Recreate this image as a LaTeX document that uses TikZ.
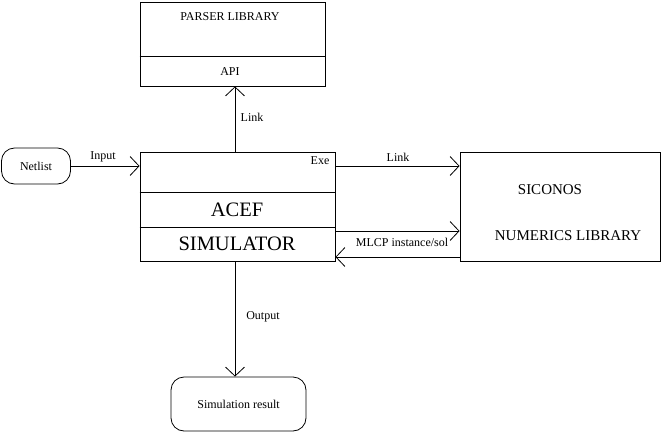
\documentclass[tikz,border=0pt]{standalone}
\usepackage{fontspec}
\setmainfont{Liberation Serif}
\usetikzlibrary{arrows.meta}
\begin{document}
\begin{tikzpicture}[x=1pt,y=-1pt,
  box/.style={draw,line width=0.8pt,inner sep=0pt},
  rbox/.style={box,rounded corners=13pt},
  arr/.style={line width=0.8pt,-{Straight Barb[length=9pt,width=19pt,line width=0.8pt]}},
  lbl/.style={font=\fontsize{12}{14}\selectfont,inner sep=0pt},
  small/.style={font=\fontsize{12}{14}\selectfont},
  big/.style={font=\fontsize{20.5}{23}\selectfont,inner sep=0pt},
  mid/.style={font=\fontsize{15}{17}\selectfont,inner sep=0pt}]
\useasboundingbox (0,0) rectangle (662,432);
% nodes
\node[box,minimum width=185pt,minimum height=84pt] (parser) at (232.5,44) {};
\node[box,minimum width=195pt,minimum height=109pt] (sim) at (237.5,206.5) {};
\node[box,minimum width=200pt,minimum height=109pt] (sic) at (560,206.5) {};
\node[rbox,minimum width=69pt,minimum height=36pt,small] (netlist) at (36,166) {Netlist};
\node[rbox,minimum width=135pt,minimum height=54pt,small] (result) at (238.5,404) {Simulation result};
% dividers
\draw[line width=0.8pt] (parser.west |- 0,56) coordinate (pd1) -- (parser.east |- 0,56) coordinate (pd2);
\draw[line width=0.8pt] (sim.west |- 0,192) coordinate (sd1) -- (sim.east |- 0,192) coordinate (sd2);
\draw[line width=0.8pt] (sim.west |- 0,227) coordinate (sd3) -- (sim.east |- 0,227) coordinate (sd4);
% texts
\node[lbl] (ptitle) at (230,17) {PARSER LIBRARY};
\node[lbl] (api) at (230,72) {API};
\node[lbl] (exe) at (320,161) {Exe};
\node[big] (acef) at (237,210) {ACEF};
\node[big] (simtext) at (237,244) {SIMULATOR};
\node[mid] (siconos) at (550,190) {SICONOS};
\node[mid] (numerics) at (568,236) {NUMERICS LIBRARY};
% connectors
\draw[arr] (sim.north -| 235,0) coordinate (a1) -- (a1 |- parser.south);
\node[lbl] (link1) at (252,117) {Link};
\draw[arr] (netlist.east) -- (netlist.east -| sim.west);
\node[lbl] (input) at (103,157) {Input};
\draw[arr] (sim.east |- netlist.east) -- (sic.west |- netlist.east);
\node[lbl] (link2) at (398,157) {Link};
\draw[arr] ([yshift=-24.5pt]sim.east) -- ([yshift=-24.5pt]sic.west);
\draw[arr] ([yshift=-50.5pt]sic.west) -- ([yshift=-50.5pt]sim.east);
\node[lbl] (mlcp) at (402,242) {MLCP instance/sol};
\draw[arr] (sim.south -| 235,0) coordinate (a2) -- (a2 |- result.north);
\node[lbl] (output) at (263,317) {Output};
\end{tikzpicture}
\end{document}
